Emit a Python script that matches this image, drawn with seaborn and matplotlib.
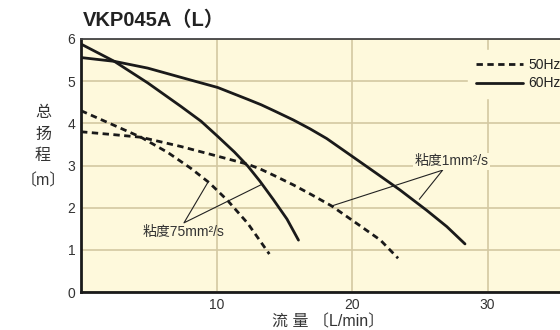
import matplotlib
matplotlib.use("Agg")
import matplotlib.pyplot as plt
import seaborn as sns
import pandas as pd
from matplotlib.lines import Line2D

# ---- data ----
flow_60_1 = [0.0, 2.46, 4.92, 7.38, 10.09, 12.3, 13.3, 14.3, 15.67, 16.9, 18.13, 20.0,
             21.82, 23.54, 25.5, 27.0, 28.34]
head_60_1 = [5.56, 5.47, 5.31, 5.09, 4.85, 4.57, 4.44, 4.29, 4.08, 3.87, 3.64, 3.22,
             2.81, 2.42, 1.94, 1.55, 1.14]

flow_60_75 = [0.0, 2.46, 4.92, 7.38, 8.86, 10.09, 11.32, 12.3, 13.2, 14.2, 15.2, 16.05]
head_60_75 = [5.88, 5.47, 4.96, 4.40, 4.05, 3.69, 3.32, 2.99, 2.63, 2.19, 1.73, 1.23]

flow_50_1 = [0.0, 2.46, 4.43, 7.38, 10.09, 12.3, 13.21, 14.27, 15.67, 17.0, 18.5, 20.6,
             22.1, 23.4]
head_50_1 = [3.80, 3.73, 3.67, 3.45, 3.22, 3.03, 2.92, 2.76, 2.54, 2.31, 2.04, 1.57,
             1.23, 0.80]

flow_50_75 = [0.0, 2.46, 4.43, 6.4, 8.12, 9.47, 10.82, 12.3, 13.9]
head_50_75 = [4.30, 3.95, 3.67, 3.31, 2.93, 2.59, 2.17, 1.63, 0.90]

x_ticks = [10, 20, 30]
y_ticks = [0, 1, 2, 3, 4, 5, 6]
title = "VKP045A（L）"
ylabel_chars = ["总", "扬", "程", "〔m〕"]
xlabel = "流 量 〔L/min〕"
visc_labels = ["粘度75mm²/s", "粘度1mm²/s"]

rows = []
for f, h, fr, v in [(flow_60_1, head_60_1, "60Hz", "1"),
                    (flow_60_75, head_60_75, "60Hz", "75"),
                    (flow_50_1, head_50_1, "50Hz", "1"),
                    (flow_50_75, head_50_75, "50Hz", "75")]:
    for a, b in zip(f, h):
        rows.append({"flow": a, "head": b, "freq": fr, "visc": v})
df = pd.DataFrame(rows)

sns.set_theme(style="white")
plt.rcParams["font.family"] = ["Liberation Sans", "Noto Sans CJK SC", "DejaVu Sans"]

BG = "#FEF9DC"
GRID = "#D3C8A2"
INK = "#1a1a1a"
DASH = (2.3, 1.6)

fig = plt.figure(figsize=(5.6, 3.3), dpi=100)
ax = fig.add_axes([81 / 560, 38 / 330, 479 / 560, 253 / 330])
ax.set_facecolor(BG)

sns.lineplot(data=df, x="flow", y="head", style="freq", units="visc",
             estimator=None, color=INK, linewidth=2.0,
             dashes={"50Hz": DASH, "60Hz": ""},
             style_order=["50Hz", "60Hz"], legend=False, ax=ax, zorder=3)
for ln in ax.get_lines():
    ln.set_solid_joinstyle("round")

ax.set_xlim(0, 479 / 13.55)
ax.set_ylim(0, 6)
ax.set_xticks(x_ticks)
ax.set_yticks(y_ticks)
ax.grid(True, color=GRID, linewidth=1.2, zorder=0)
ax.set_axisbelow(True)
ax.tick_params(axis="both", length=0, labelsize=10, colors="#333333", pad=4)
ax.set_xlabel("")
ax.set_ylabel("")

for s in ["left", "bottom"]:
    ax.spines[s].set_color(INK)
    ax.spines[s].set_linewidth(2.0)
ax.spines["top"].set_color("#444444")
ax.spines["top"].set_linewidth(1.3)
ax.spines["right"].set_visible(False)

# legend
handles = [Line2D([], [], color=INK, lw=2.0, ls=(0, DASH)),
           Line2D([], [], color=INK, lw=2.0, ls="-")]
leg = ax.legend(handles, ["50Hz", "60Hz"], loc="upper left",
                bbox_to_anchor=((468 - 81) / 479, (292 - 50) / 253),
                borderaxespad=0, borderpad=0.55, fontsize=10,
                handlelength=3.4, handletextpad=0.4, labelspacing=0.35,
                frameon=True, facecolor=BG, edgecolor=BG, framealpha=1,
                fancybox=False)
for t in leg.get_texts():
    t.set_color("#222222")

# annotations
ax.plot([9.4, 7.6, 13.33], [2.62, 1.64, 2.55], color="#222222", lw=0.8, zorder=4)
ax.text(7.6, 1.43, visc_labels[0], ha="center", va="center", fontsize=10,
        color="#333333", zorder=5)
ax.plot([18.5, 26.69, 24.97], [2.04, 2.89, 2.2], color="#222222", lw=0.8, zorder=4)
ax.text(27.34, 3.1, visc_labels[1], ha="center", va="center", fontsize=10,
        color="#333333", zorder=5,
        bbox=dict(facecolor=BG, edgecolor="none", pad=1.0))

# titles and labels
fig.text(83 / 560, 1 - 20 / 330, title, ha="left", va="center",
         fontsize=14.5, fontweight="bold", color="#222222")
for ch, yp in zip(ylabel_chars, [113, 134, 156, 181]):
    fig.text(43 / 560, 1 - yp / 330, ch, ha="center", va="center",
             fontsize=11.5, color="#333333")
fig.text(328 / 560, 1 - 322 / 330, xlabel, ha="center", va="center",
         fontsize=11.5, color="#333333")

fig.savefig("out.png", dpi=100, facecolor="white")
